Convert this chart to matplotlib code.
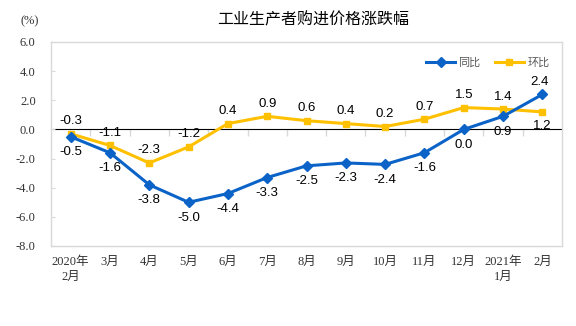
import numpy as np
import matplotlib
matplotlib.use("Agg")
from matplotlib import pyplot as plt

plt.rcParams['font.family'] = ['Noto Sans CJK SC', 'DejaVu Sans']
plt.rcParams['axes.unicode_minus'] = False

months = ['2020年\n2月', '3月', '4月', '5月', '6月', '7月', '8月', '9月',
          '10月', '11月', '12月', '2021年\n1月', '2月']
yoy = [-0.5, -1.6, -3.8, -5.0, -4.4, -3.3, -2.5, -2.3, -2.4, -1.6, 0.0, 0.9, 2.4]   # 同比
mom = [-0.3, -1.1, -2.3, -1.2, 0.4, 0.9, 0.6, 0.4, 0.2, 0.7, 1.5, 1.4, 1.2]        # 环比
yticks = [-8.0, -6.0, -4.0, -2.0, 0.0, 2.0, 4.0, 6.0]

BLUE = '#0B63C8'
YELLOW = '#FFC000'
GRAY = '#D9D9D9'

fig = plt.figure(figsize=(5.76, 3.26), dpi=100)
ax = fig.add_axes([51/576, 1-246/326, 511/576, 204/326])

x = np.arange(len(months))
ax.plot(x, yoy, color=BLUE, lw=2.2, marker='D', ms=5.5, label='同比', zorder=3)
ax.plot(x, mom, color=YELLOW, lw=2.2, marker='s', ms=5, label='环比', zorder=2)

lab = dict(ha='center', va='center', fontsize=9.5, family=['Liberation Sans'],
           color='#000000', textcoords='offset points')
for i, v in enumerate(mom):
    off = -10 if i == len(mom)-1 else 9
    ax.annotate('%.1f' % v, (x[i], v), xytext=(0, off), **lab)
for i, v in enumerate(yoy):
    off = 9 if i == len(yoy)-1 else -11
    ax.annotate('%.1f' % v, (x[i], v), xytext=(-2 if i == len(yoy)-1 else 0, off), **lab)

ax.set_xlim(-0.5, len(months)-0.5)
ax.set_ylim(-8, 6)
ax.set_yticks(yticks)
ax.set_yticklabels(['%.1f' % t for t in yticks], family=['Liberation Serif'],
                   fontsize=9, color='#333333')
ax.tick_params(axis='y', direction='in', length=3, color=GRAY, pad=11)
ax.set_xticks(x)
ax.set_xticklabels(months, family=['Liberation Serif', 'Noto Sans CJK SC'],
                   fontsize=9, color='#333333', linespacing=1.4)
ax.tick_params(axis='x', length=0, pad=7)
for s in ax.spines.values():
    s.set_color(GRAY)
    s.set_linewidth(1)

# category axis crossing at 0
sec = ax.secondary_xaxis((0 - (-8)) / 14)
sec.set_xticks(np.arange(0.5, len(months)-1, 1))
sec.set_xticklabels([])
sec.tick_params(direction='in', length=5, color=GRAY, width=1)
sec.spines['bottom'].set_color(GRAY)
sec.spines['bottom'].set_linewidth(1)

leg = ax.legend(loc='center right', bbox_to_anchor=(555/576, 1-63/326),
                bbox_transform=fig.transFigure, ncol=2, frameon=False,
                fontsize=8, handlelength=2.6, handletextpad=0.3,
                columnspacing=1.3, borderpad=0)
for t in leg.get_texts():
    t.set_color('#595959')

fig.text(313/576, 1-20/326, '工业生产者购进价格涨跌幅', ha='center', va='center',
         fontsize=11.5, color='#000000')
fig.text(30/576, 1-21/326, '(%)', ha='center', va='center',
         family=['Liberation Serif'], fontsize=9, color='#333333')

fig.savefig('out.png', dpi=100)
